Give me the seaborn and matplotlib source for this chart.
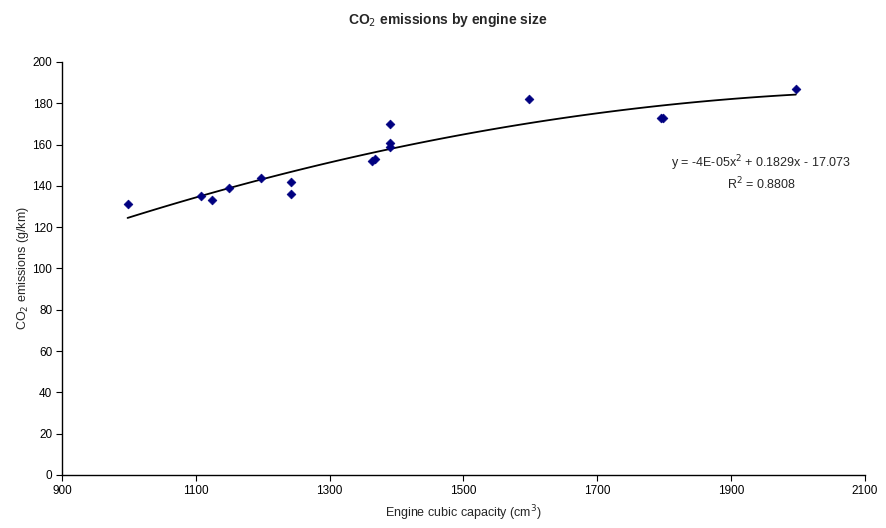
import numpy as np
import pandas as pd
import matplotlib
matplotlib.use('Agg')
import matplotlib.pyplot as plt
import seaborn as sns

# Engine size vs CO2 emissions
engine_cc = [998, 1108, 1124, 1149, 1198, 1242, 1242, 1364, 1368, 1390, 1390, 1390, 1598, 1796, 1798, 1997]
co2_gkm = [131, 135, 133, 139, 144, 142, 136, 152, 153, 159, 161, 170, 182, 173, 173, 187]

df = pd.DataFrame({'cc': engine_cc, 'co2': co2_gkm})

sns.set_style('white')
plt.rcParams['font.family'] = ['Liberation Sans', 'DejaVu Sans']

fig = plt.figure(figsize=(8.86, 5.28), dpi=100)
ax = fig.add_axes([0.07, 0.1004, 0.906, 0.7822])

# quadratic trend line
sns.regplot(data=df, x='cc', y='co2', order=2, ci=None, scatter=False, ax=ax,
            line_kws={'color': 'black', 'lw': 1.3})
sns.scatterplot(data=df, x='cc', y='co2', marker='D', s=20, color='#000080',
                edgecolor='#000080', linewidth=0.5, ax=ax, zorder=3)

ax.set_xlim(900, 2100)
ax.set_ylim(0, 200)
ax.set_xticks(range(900, 2101, 200))
ax.set_yticks(range(0, 201, 20))
ax.tick_params(axis='both', direction='out', length=4, width=0.8, labelsize=8.5,
               left=True, bottom=True, colors='black', pad=3)
for side in ['top', 'right']:
    ax.spines[side].set_visible(False)
for side in ['left', 'bottom']:
    ax.spines[side].set_color('black')
    ax.spines[side].set_linewidth(1)

ax.set_xlabel('Engine cubic capacity (cm$^3$)', fontsize=9, labelpad=5)
ax.set_ylabel('CO$_2$ emissions (g/km)', fontsize=9, labelpad=1)
fig.suptitle('CO$_2$ emissions by engine size', x=0.505, y=0.98, fontsize=10, fontweight='bold')

ax.text(1945, 146.5, 'y = -4E-05x$^2$ + 0.1829x - 17.073\nR$^2$ = 0.8808',
        ha='center', va='center', fontsize=9, linespacing=1.2)

fig.savefig('out.png', dpi=100)
